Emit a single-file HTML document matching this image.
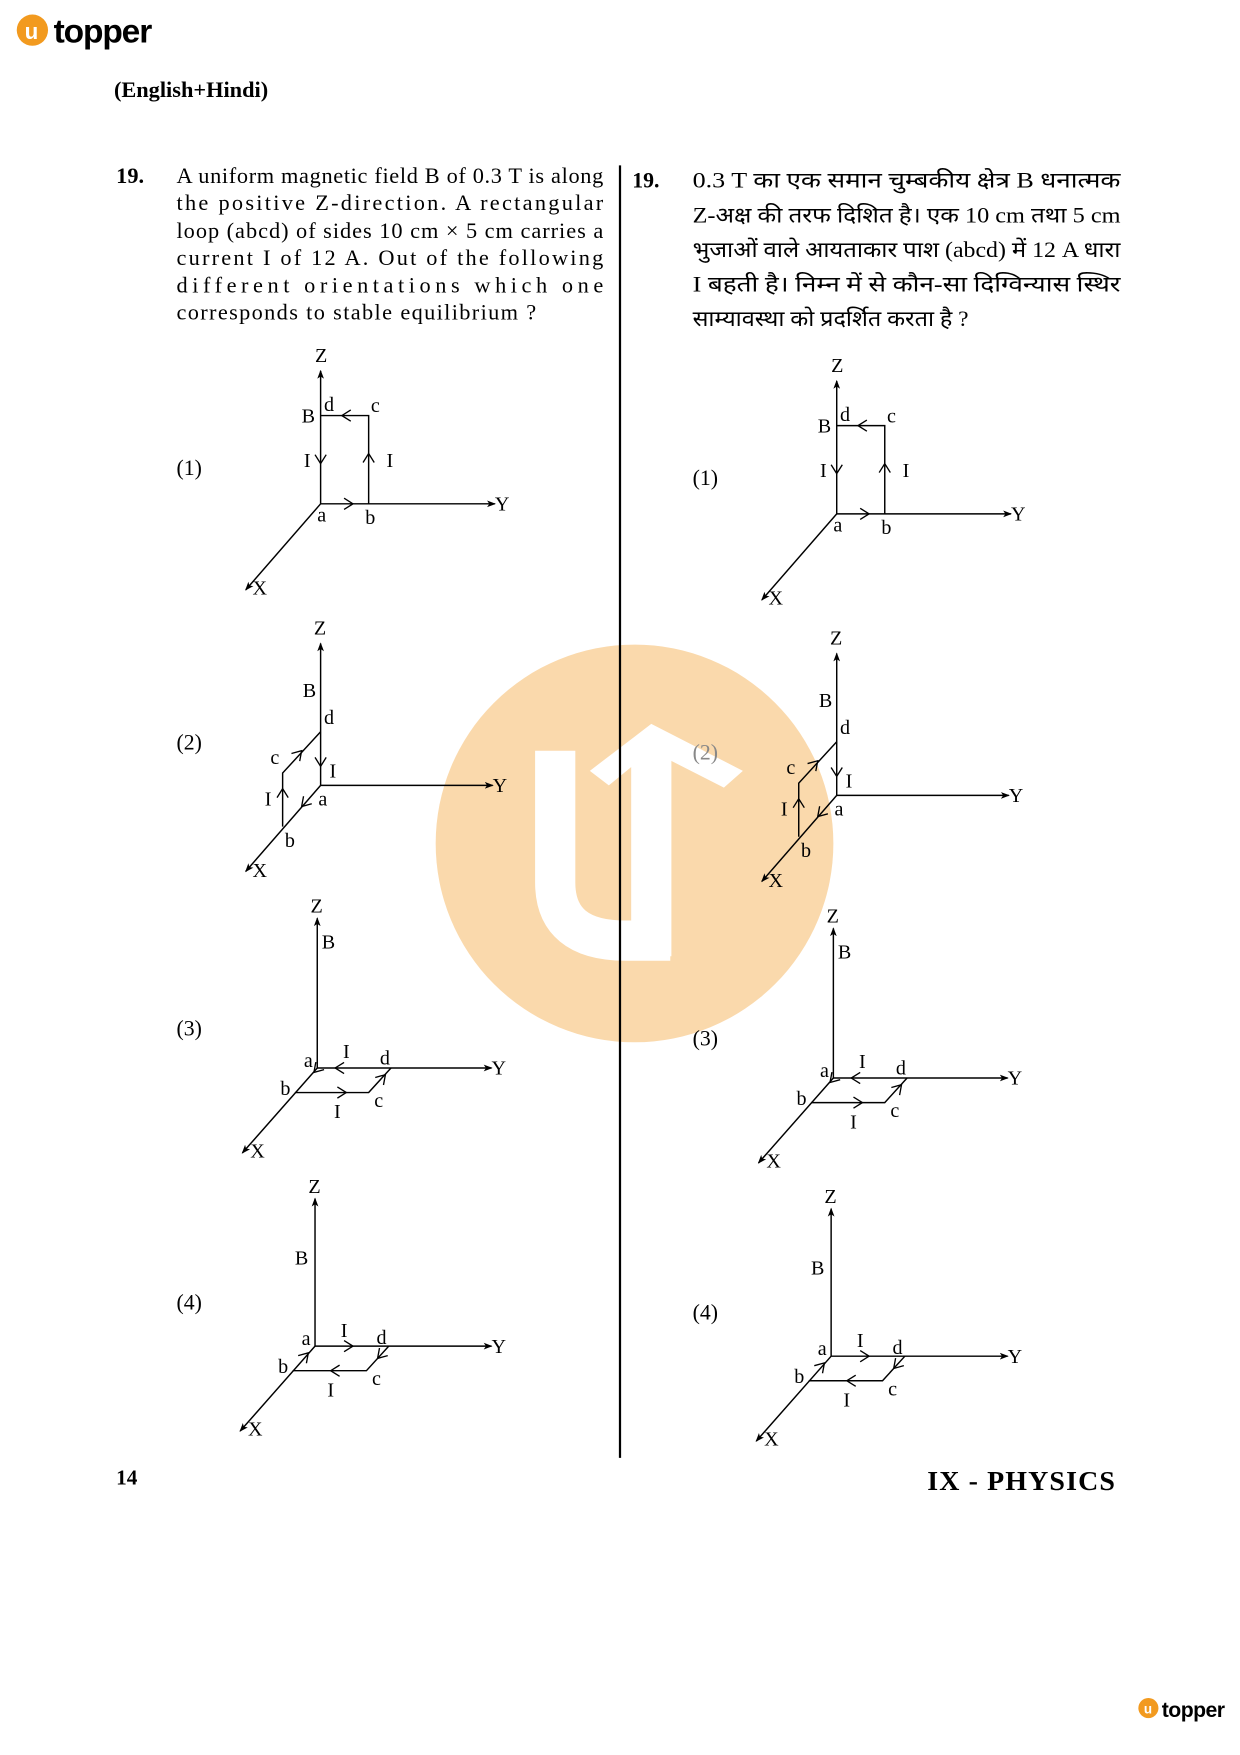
<!DOCTYPE html>
<html><head><meta charset="utf-8"><style>
html,body{margin:0;padding:0;background:#fff}
svg{display:block}
text{font-family:"Liberation Serif",serif;fill:#000}
</style></head><body>
<svg width="1240" height="1755" viewBox="0 0 1110 1571" xmlns="http://www.w3.org/2000/svg">
<defs>
<marker id="ah" markerWidth="8" markerHeight="8" refX="7" refY="4" orient="auto" markerUnits="userSpaceOnUse"><path d="M0 1 L8 4 L0 7 L2 4 Z" fill="#000"/></marker>
<path id="ch" d="M-8 -5 L0 0 L-8 5" fill="none" stroke="#000" stroke-width="1.2"/>
<g id="d1">
<g stroke="#000" stroke-width="1.3" fill="none">
<line x1="287" y1="451" x2="287" y2="332" marker-end="url(#ah)"/>
<line x1="287" y1="451" x2="443" y2="451" marker-end="url(#ah)"/>
<line x1="287" y1="451" x2="220" y2="528" marker-end="url(#ah)"/>
<polyline points="287,372 330,372 330,451"/>
</g>
<use href="#ch" transform="translate(316,451)"/>
<use href="#ch" transform="translate(306,372) rotate(180)"/>
<use href="#ch" transform="translate(287,415) rotate(90)"/>
<use href="#ch" transform="translate(330,406) rotate(-90)"/>
<g font-size="18">
<text x="282" y="324">Z</text><text x="443" y="457">Y</text><text x="226" y="532">X</text>
<text x="270" y="378">B</text><text x="290" y="368">d</text><text x="332" y="369">c</text>
<text x="272" y="418">I</text><text x="346" y="418">I</text>
<text x="284" y="467">a</text><text x="327" y="469">b</text>
</g></g>
<g id="d2">
<g stroke="#000" stroke-width="1.3" fill="none">
<line x1="287" y1="703" x2="287" y2="576" marker-end="url(#ah)"/>
<line x1="287" y1="703" x2="441" y2="703" marker-end="url(#ah)"/>
<line x1="287" y1="703" x2="220" y2="780" marker-end="url(#ah)"/>
<polyline points="287,655 253,692 253,740"/>
</g>
<use href="#ch" transform="translate(287,686) rotate(90)"/>
<use href="#ch" transform="translate(253,706) rotate(-90)"/>
<use href="#ch" transform="translate(270,672) rotate(-47.5)"/>
<use href="#ch" transform="translate(270,722) rotate(132.5)"/>
<g font-size="18">
<text x="281" y="568">Z</text><text x="441" y="709">Y</text><text x="226" y="785">X</text>
<text x="271" y="624">B</text><text x="290" y="648">d</text><text x="242" y="684">c</text>
<text x="295" y="696">I</text><text x="237" y="721">I</text>
<text x="285" y="721">a</text><text x="255" y="758">b</text>
</g></g>
<g id="d3">
<g stroke="#000" stroke-width="1.3" fill="none">
<line x1="284" y1="956" x2="284" y2="822" marker-end="url(#ah)"/>
<line x1="284" y1="956" x2="440" y2="956" marker-end="url(#ah)"/>
<line x1="284" y1="956" x2="217" y2="1032" marker-end="url(#ah)"/>
<polyline points="264,978 330,978 350,956"/>
</g>
<use href="#ch" transform="translate(300,956) rotate(180)"/>
<use href="#ch" transform="translate(310,978)"/>
<use href="#ch" transform="translate(345,962) rotate(-47.5)"/>
<use href="#ch" transform="translate(281,960) rotate(132.5)"/>
<g font-size="18">
<text x="278" y="817">Z</text><text x="440" y="962">Y</text><text x="224" y="1036">X</text>
<text x="288" y="849">B</text><text x="272" y="955">a</text><text x="307" y="947">I</text>
<text x="340" y="953">d</text><text x="251" y="980">b</text><text x="335" y="991">c</text>
<text x="299" y="1001">I</text>
</g></g>
<g id="d4">
<g stroke="#000" stroke-width="1.3" fill="none">
<line x1="282" y1="1205" x2="282" y2="1073" marker-end="url(#ah)"/>
<line x1="282" y1="1205" x2="440" y2="1205" marker-end="url(#ah)"/>
<line x1="282" y1="1205" x2="215" y2="1281" marker-end="url(#ah)"/>
<polyline points="262,1227 328,1227 348,1205"/>
</g>
<use href="#ch" transform="translate(316,1205)"/>
<use href="#ch" transform="translate(296,1227) rotate(180)"/>
<use href="#ch" transform="translate(338,1216) rotate(132.5)"/>
<use href="#ch" transform="translate(276,1211) rotate(-47.5)"/>
<g font-size="18">
<text x="276" y="1068">Z</text><text x="440" y="1211">Y</text><text x="222" y="1285">X</text>
<text x="264" y="1132">B</text><text x="270" y="1204">a</text><text x="305" y="1197">I</text>
<text x="337" y="1203">d</text><text x="249" y="1229">b</text><text x="333" y="1240">c</text>
<text x="293" y="1250">I</text>
</g></g>
</defs>

<circle cx="568" cy="755" r="178" fill="#fad9ac"/>
<path d="M497 672 V790 Q497 842 560 842 H600" fill="none" stroke="#fff" stroke-width="36"/>
<rect x="565" y="668" width="36" height="188" fill="#fff"/>
<polygon points="583,648 665,690 648,705 583,672 545,703 528,690" fill="#fff"/>

<circle cx="29" cy="27" r="14" fill="#f29a1f"/>
<text x="22" y="35" font-size="20" font-weight="bold" style="fill:#fff;font-family:'Liberation Sans',sans-serif">u</text>
<text x="48" y="38" font-size="30" font-weight="bold" style="font-family:'Liberation Sans',sans-serif" letter-spacing="-1">topper</text>
<text x="102" y="87" font-size="20" font-weight="bold">(English+Hindi)</text>

<g font-size="20">
<text x="104" y="164" font-weight="bold">19.</text>
<text x="158" y="164" textLength="382" lengthAdjust="spacing">A uniform magnetic field B of 0.3 T is along</text>
<text x="158" y="188" textLength="382" lengthAdjust="spacing">the positive Z-direction.  A rectangular</text>
<text x="158" y="213" textLength="382" lengthAdjust="spacing">loop (abcd) of sides 10 cm × 5 cm carries a</text>
<text x="158" y="237" textLength="382" lengthAdjust="spacing">current I of 12 A.  Out of the following</text>
<text x="158" y="262" textLength="382" lengthAdjust="spacing">different   orientations   which   one</text>
<text x="158" y="286" textLength="322" lengthAdjust="spacing">corresponds to stable equilibrium ?</text>
</g>
<g font-size="19.5">
<text x="566" y="168" font-weight="bold">19.</text>
<g style="font-family:'Liberation Serif','Noto Sans CJK SC',sans-serif">
<text x="620" y="168" textLength="383" lengthAdjust="spacingAndGlyphs">0.3 T का एक समान चुम्बकीय क्षेत्र B धनात्मक</text>
<text x="620" y="199" textLength="383" lengthAdjust="spacingAndGlyphs">Z-अक्ष की तरफ दिशित है। एक 10 cm तथा 5 cm</text>
<text x="620" y="230" textLength="383" lengthAdjust="spacingAndGlyphs">भुजाओं वाले आयताकार पाश (abcd) में 12 A धारा</text>
<text x="620" y="261" textLength="383" lengthAdjust="spacingAndGlyphs">I बहती है। निम्न में से कौन-सा दिग्विन्यास स्थिर</text>
<text x="620" y="292" textLength="247" lengthAdjust="spacingAndGlyphs">साम्यावस्था को प्रदर्शित करता है ?</text>
</g></g>

<line x1="555" y1="148" x2="555" y2="1305" stroke="#000" stroke-width="2"/>

<use href="#d1"/><use href="#d2"/><use href="#d3"/><use href="#d4"/>
<g transform="translate(462,9)"><use href="#d1"/><use href="#d2"/><use href="#d3"/><use href="#d4"/></g>

<g font-size="19.5">
<text x="158" y="425">(1)</text><text x="158" y="671">(2)</text><text x="158" y="927">(3)</text><text x="158" y="1172">(4)</text>
<text x="620" y="434">(1)</text><text x="620" y="680" style="fill:#888">(2)</text><text x="620" y="936">(3)</text><text x="620" y="1181">(4)</text>
</g>

<text x="104" y="1329" font-size="19" font-weight="bold">14</text>
<text x="830" y="1334" font-size="25" font-weight="bold" textLength="168" lengthAdjust="spacing">IX - PHYSICS</text>

<circle cx="1028" cy="1529" r="9" fill="#f29a1f"/>
<text x="1024" y="1534" font-size="12" font-weight="bold" style="fill:#fff;font-family:'Liberation Sans',sans-serif">u</text>
<text x="1040" y="1537" font-size="19" font-weight="bold" style="font-family:'Liberation Sans',sans-serif" letter-spacing="-0.5">topper</text>
</svg>
</body></html>
